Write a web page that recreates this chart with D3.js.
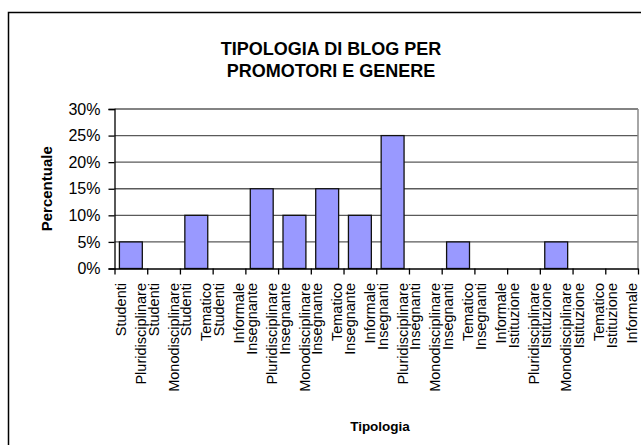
<!DOCTYPE html>
<html>
<head>
<meta charset="utf-8">
<script src="https://cdn.jsdelivr.net/npm/d3@7"></script>
<style>
  html, body { margin: 0; padding: 0; background: #fff; }
  svg { display: block; font-family: "Liberation Sans", Arial, sans-serif; }
</style>
</head>
<body>
<svg id="chart" width="641" height="445"></svg>
<script>
// ---- data ----
const promoters = ["Studenti","Studenti","Studenti","Studenti",
                   "Insegnante","Insegnante","Insegnante","Insegnante",
                   "Insegnanti","Insegnanti","Insegnanti","Insegnanti",
                   "Istituzione","Istituzione","Istituzione","Istituzione"];
const genres = ["Pluridisciplinare","Monodisciplinare","Tematico","Informale",
                "Pluridisciplinare","Monodisciplinare","Tematico","Informale",
                "Pluridisciplinare","Monodisciplinare","Tematico","Informale",
                "Pluridisciplinare","Monodisciplinare","Tematico","Informale"];
const values = [0.05, 0, 0.10, 0, 0.15, 0.10, 0.15, 0.10, 0.25, 0, 0.05, 0, 0, 0.05, 0, 0];
const yTicks = [0, 0.05, 0.10, 0.15, 0.20, 0.25, 0.30];
const titleLines = ["TIPOLOGIA DI BLOG PER", "PROMOTORI E GENERE"];
const yTitle = "Percentuale";
const xTitle = "Tipologia";

// ---- layout ----
const svg = d3.select("#chart");
const plot = { left: 114.5, right: 638, top: 109, bottom: 268.5 };
const idx = d3.range(values.length);

const x = d3.scaleBand().domain(idx).range([plot.left, plot.right])
  .paddingInner(0.3).paddingOuter(0.15);
const y = d3.scaleLinear().domain([0, 0.30]).range([plot.bottom, plot.top]);
const step = x.step();

// outer chart border
svg.append("rect").attr("x", 8.5).attr("y", 12.5).attr("width", 700).attr("height", 500)
  .attr("fill", "#fff").attr("stroke", "#000").attr("stroke-width", 1.5);

// title
svg.append("text").attr("x", 331).attr("y", 55)
  .attr("text-anchor", "middle").attr("font-size", 18).attr("font-weight", "bold")
  .selectAll("tspan").data(titleLines).join("tspan")
  .attr("x", 331).attr("dy", (d, i) => i === 0 ? 0 : 21.7).text(d => d);

// gridlines
svg.append("g").selectAll("line").data(yTicks.filter(t => t > 0)).join("line")
  .attr("x1", plot.left).attr("x2", plot.right)
  .attr("y1", d => y(d)).attr("y2", d => y(d))
  .attr("stroke", "#5a5a5a").attr("stroke-width", 1.3);

// plot border (right side)
svg.append("line").attr("x1", plot.right).attr("x2", plot.right)
  .attr("y1", plot.top).attr("y2", plot.bottom)
  .attr("stroke", "#888").attr("stroke-width", 1.5);

// bars
svg.append("g").selectAll("rect").data(values).join("rect")
  .attr("x", (d, i) => x(i)).attr("width", x.bandwidth())
  .attr("y", d => y(d)).attr("height", d => y(0) - y(d))
  .attr("fill", "#9999ff").attr("stroke", "#111").attr("stroke-width", 1.3)
  .attr("display", d => d > 0 ? null : "none");

// y axis
const yAxis = d3.axisLeft(y).tickValues(yTicks).tickFormat(d3.format(".0%"))
  .tickSize(6).tickPadding(8);
const gy = svg.append("g").attr("transform", `translate(${plot.left},0)`).call(yAxis);
gy.select(".domain").attr("stroke", "#000").attr("stroke-width", 1.3);
gy.selectAll(".tick line").attr("stroke", "#000").attr("stroke-width", 1.3);
gy.selectAll(".tick text").attr("font-size", 16).attr("fill", "#000")
  .attr("font-family", "Liberation Sans, Arial, sans-serif");

// x axis line and ticks at category boundaries
const xLin = d3.scaleLinear().domain([0, values.length]).range([plot.left, plot.right]);
const xAxis = d3.axisBottom(xLin).tickValues(d3.range(values.length + 1))
  .tickSize(6).tickFormat("").tickSizeOuter(0);
const gx = svg.append("g").attr("transform", `translate(0,${plot.bottom})`).call(xAxis);
gx.select(".domain").attr("stroke", "#000").attr("stroke-width", 1.3);
gx.selectAll(".tick line").attr("stroke", "#000").attr("stroke-width", 1.3);

// category labels (two rotated lines each)
const labG = svg.append("g").attr("font-size", 14.5).attr("fill", "#000");
idx.forEach(i => {
  const cx = x(i) + x.bandwidth() / 2;
  [[promoters[i], -10], [genres[i], 10]].forEach(([t, off]) => {
    labG.append("text")
      .attr("transform", `translate(${cx + off},283) rotate(-90)`)
      .attr("text-anchor", "end").attr("dy", "0.35em").text(t);
  });
});

// axis titles
svg.append("text").attr("transform", `translate(47,${(plot.top + plot.bottom) / 2}) rotate(-90)`)
  .attr("text-anchor", "middle").attr("dy", "0.35em")
  .attr("font-size", 15).attr("font-weight", "bold").text(yTitle);
svg.append("text").attr("x", 380).attr("y", 431)
  .attr("text-anchor", "middle").attr("font-size", 13.5).attr("font-weight", "bold").text(xTitle);
</script>
</body>
</html>
